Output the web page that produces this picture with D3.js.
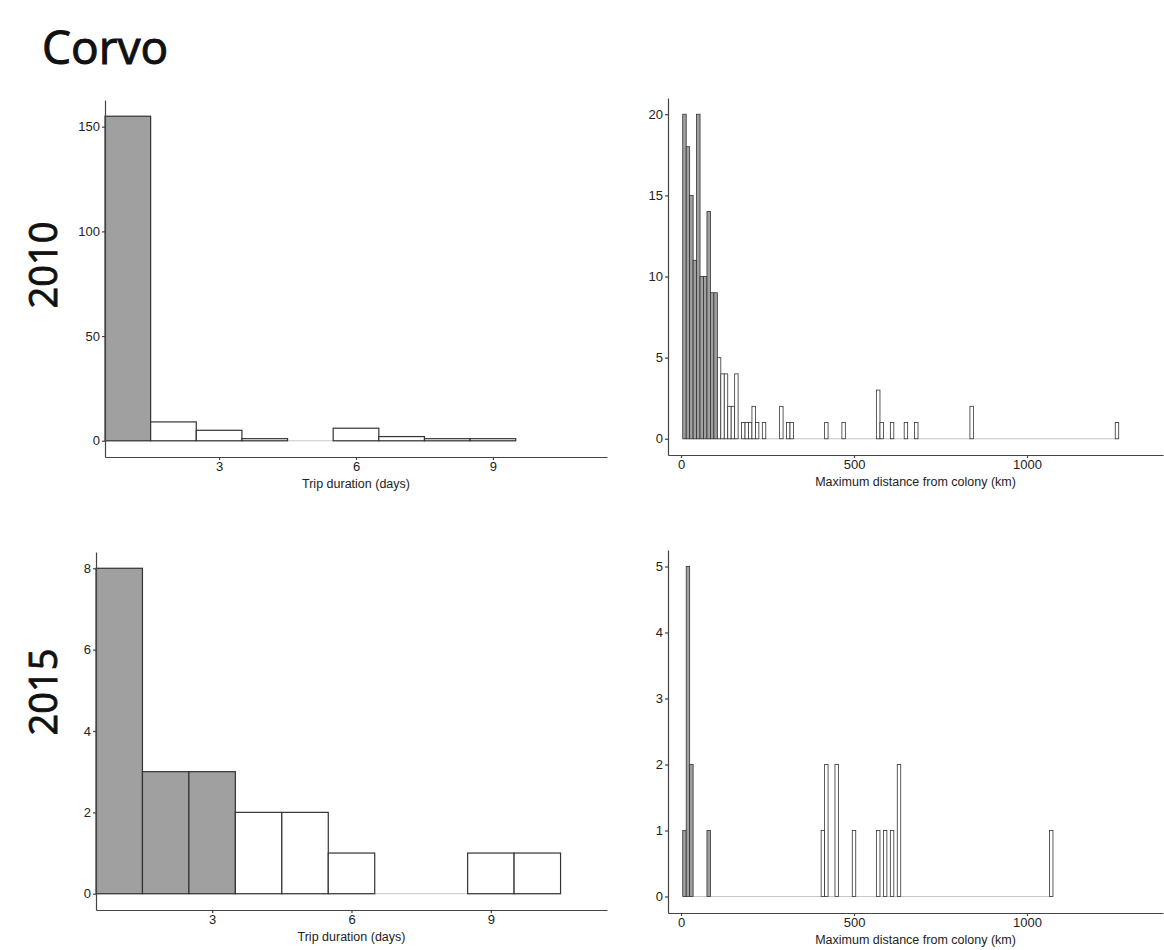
<!DOCTYPE html>
<html>
<head>
<meta charset="utf-8">
<script src="https://cdn.jsdelivr.net/npm/d3@7"></script>
<style>
  body { margin: 0; background: #fff; }
  svg { display: block; }
  .tick text { font-family: "Liberation Sans", Arial, sans-serif; font-size: 13px; fill: #222; }
  .axis path, .axis line { stroke: #444; stroke-width: 1.2; }
</style>
</head>
<body>
<svg width="1164" height="950"></svg>
<script>
// trip duration histograms (1-day bins, centred on whole days)
var durDays2010 = [1, 2, 3, 4, 5, 6, 7, 8, 9];
var durCount2010 = [155, 9, 5, 1, 0, 6, 2, 1, 1];
var durDays2015 = [1, 2, 3, 4, 5, 6, 7, 8, 9, 10];
var durCount2015 = [8, 3, 3, 2, 2, 1, 0, 0, 1, 1];

// maximum distance histograms (10 km bins, only non-empty bins listed)
var distKm2010 = [10, 20, 30, 40, 50, 60, 70, 80, 90, 100, 110, 120, 130, 140, 150, 160, 180, 190, 200, 210, 220, 240, 290, 310, 320, 420, 470, 570, 580, 610, 650, 680, 840, 1260];
var distCount2010 = [20, 18, 15, 11, 20, 10, 10, 14, 9, 9, 5, 4, 4, 2, 2, 4, 1, 1, 1, 2, 1, 1, 2, 1, 1, 1, 1, 3, 1, 1, 1, 1, 2, 1];
var distKm2015 = [10, 20, 30, 80, 410, 420, 450, 500, 570, 590, 610, 630, 1070];
var distCount2015 = [1, 5, 2, 1, 1, 2, 2, 1, 1, 1, 1, 2, 1];

// bins up to these values are shaded grey
var durGrey2010 = 1, durGrey2015 = 3, distGrey = 100;

var durTicks = [3, 6, 9], distTicks = [0, 500, 1000];
var yTicks2010Dur = [0, 50, 100, 150], yTicks2010Dist = [0, 5, 10, 15, 20];
var yTicks2015Dur = [0, 2, 4, 6, 8], yTicks2015Dist = [0, 1, 2, 3, 4, 5];

var svg = d3.select("svg");
var font = "'Liberation Sans', Arial, sans-serif";

// regular weight thickened a little with a stroke (semi-bold look)
svg.append("text")
    .attr("x", 42).attr("y", 64)
    .style("font-family", "'Open Sans', sans-serif")
    .style("font-size", "46px")
    .attr("fill", "#111")
    .attr("stroke", "#111").attr("stroke-width", 1)
    .text("Corvo");

function yearLabel(txt, cy) {
    svg.append("text")
        .attr("transform", `translate(57,${cy}) rotate(-90)`)
        .attr("text-anchor", "middle")
        .style("font-family", "'Open Sans', sans-serif")
        .style("font-size", "38px")
        .attr("fill", "#111")
        .attr("stroke", "#111").attr("stroke-width", 0.9)
        .text(txt);
}
yearLabel("2010", 265);
yearLabel("2015", 692);

function histPanel(o) {
    var g = svg.append("g");
    var x = d3.scaleLinear().domain(o.xDomain).range([o.left, o.right]);
    var maxC = d3.max(o.counts);
    var y = d3.scaleLinear().domain([-0.05 * maxC, 1.05 * maxC]).range([o.bottom, o.top]);
    var half = o.binWidth / 2;

    // zero-count baseline under the whole binned range
    g.append("line")
        .attr("x1", x(d3.min(o.bins) - half)).attr("x2", x(d3.max(o.bins) + half))
        .attr("y1", y(0)).attr("y2", y(0))
        .attr("stroke", "#c8c8c8").attr("stroke-width", 1);

    var data = o.bins.map((b, i) => ({ b: b, c: o.counts[i] })).filter(d => d.c > 0);
    g.selectAll("rect.bar")
        .data(data)
        .enter().append("rect")
        .attr("class", "bar")
        .attr("x", d => x(d.b - half))
        .attr("width", d => x(d.b + half) - x(d.b - half))
        .attr("y", d => y(d.c))
        .attr("height", d => y(0) - y(d.c))
        .attr("fill", d => d.b <= o.greyMax ? "#a0a0a0" : "#fff")
        .attr("stroke", "#333")
        .attr("stroke-width", o.stroke);

    var yAxis = d3.axisLeft(y).tickValues(o.yTicks).tickFormat(d3.format("d"))
        .tickSize(3).tickSizeOuter(0).tickPadding(2);
    g.append("g").attr("class", "axis")
        .attr("transform", `translate(${o.left},0)`)
        .call(yAxis);
    var xAxis = d3.axisBottom(x).tickValues(o.xTicks).tickFormat(d3.format("d"))
        .tickSize(3).tickSizeOuter(0).tickPadding(2);
    g.append("g").attr("class", "axis")
        .attr("transform", `translate(0,${o.bottom})`)
        .call(xAxis);
    g.selectAll(".tick text").style("font-family", font);

    g.append("text")
        .attr("x", (o.left + o.right) / 2).attr("y", o.bottom + 31)
        .attr("text-anchor", "middle")
        .style("font-family", font).style("font-size", "12.5px")
        .attr("fill", "#222")
        .text(o.xTitle);
}

histPanel({ bins: durDays2010, counts: durCount2010, binWidth: 1, greyMax: durGrey2010,
    xDomain: [0.5, 11.5], left: 105, right: 607, top: 100, bottom: 457,
    yTicks: yTicks2010Dur, xTicks: durTicks, stroke: 1.2, xTitle: "Trip duration (days)" });
histPanel({ bins: distKm2010, counts: distCount2010, binWidth: 10, greyMax: distGrey,
    xDomain: [-37.6, 1393], left: 668, right: 1163, top: 98, bottom: 455,
    yTicks: yTicks2010Dist, xTicks: distTicks, stroke: 0.8, xTitle: "Maximum distance from colony (km)" });
histPanel({ bins: durDays2015, counts: durCount2015, binWidth: 1, greyMax: durGrey2015,
    xDomain: [0.5, 11.5], left: 96, right: 607, top: 552, bottom: 910,
    yTicks: yTicks2015Dur, xTicks: durTicks, stroke: 1.2, xTitle: "Trip duration (days)" });
histPanel({ bins: distKm2015, counts: distCount2015, binWidth: 10, greyMax: distGrey,
    xDomain: [-37.6, 1393], left: 668, right: 1163, top: 550, bottom: 913,
    yTicks: yTicks2015Dist, xTicks: distTicks, stroke: 0.8, xTitle: "Maximum distance from colony (km)" });
</script>
</body>
</html>
